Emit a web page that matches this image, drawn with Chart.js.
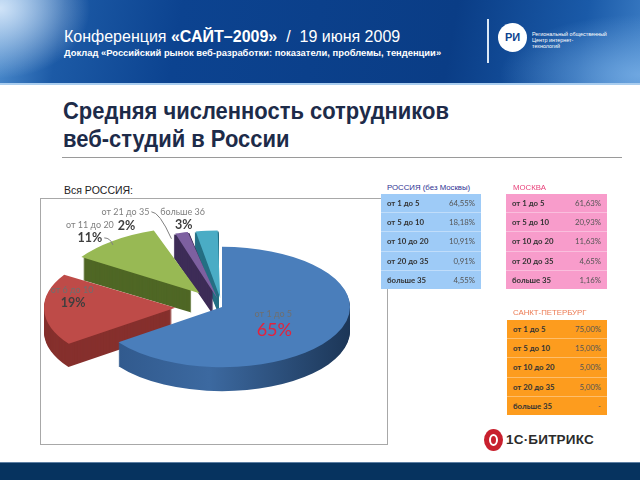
<!DOCTYPE html>
<html lang="ru">
<head>
<meta charset="utf-8">
<script src="https://cdn.jsdelivr.net/npm/chart.js@4.4.1/dist/chart.umd.min.js"></script>
<style>
html, body { margin: 0; padding: 0; }
body { width: 640px; height: 480px; position: relative; overflow: hidden; background: #fff;
       font-family: "Liberation Sans", Arial, sans-serif; }
.abs { position: absolute; }
#header { left: 0; top: 0; width: 640px; height: 83px;
  background:
    radial-gradient(ellipse 90px 70px at 0% 10%, rgba(215,232,250,0.95), rgba(120,170,225,0) 100%),
    radial-gradient(ellipse 140px 60px at 100% 90%, rgba(120,175,230,0.85), rgba(120,175,230,0) 100%),
    linear-gradient(100deg, #4f8fd0 0%, #1c5aa6 10%, #0c4390 28%, #0a3d86 70%, #1a5aa8 90%, #3b7cc4 100%);
  border-bottom: 2px solid #a9cdef; }
#conf { left: 64px; top: 28px; color: #fff; font-size: 16px; white-space: nowrap; }
#conf b { font-weight: bold; }
#report { left: 64px; top: 47px; color: #fff; font-size: 9.4px; font-weight: bold; white-space: nowrap; }
#sep { left: 487px; top: 19px; width: 2px; height: 44px; background: #dbe8f6; }
#logo { left: 498px; top: 23px; width: 29px; height: 29px; border-radius: 50%; background: #fff;
  color: #0c4390; font: bold 11px "Liberation Sans", Arial, sans-serif; text-align: center; line-height: 29px; }
#logotext { left: 532px; top: 31px; color: #fff; font-size: 5.4px; line-height: 6.2px; white-space: nowrap; }
#title { left: 63px; top: 97px; color: #1d2b49; font-family: "Liberation Sans", Arial, sans-serif; font-weight: bold;
  font-size: 24.5px; line-height: 27.5px; white-space: nowrap; transform-origin: 0 0; }
#rule { left: 62px; top: 157px; width: 560px; height: 1px; background: #9a9a9a; }
#vsya { left: 64px; top: 184px; font-size: 10.5px; color: #222; }
#box { left: 40px; top: 198px; width: 346px; height: 245px; border: 1px solid #a8a8a8; }
#pie { left: 40px; top: 198px; }
.thead { font-family: "Liberation Sans", Arial, sans-serif; font-size: 7.8px; white-space: nowrap; }
table.t { position: absolute; border-collapse: collapse; font-family: Lato, "Open Sans", sans-serif; font-size: 7.8px; }
table.t td { height: 18.2px; padding: 0; border-top: 1px solid rgba(255,255,255,0.35); }
table.t tr:first-child td { border-top: none; }
table.t td.l { padding-left: 6px; color: #333; width: 60px; font-weight: bold; }
table.t td.v { text-align: right; padding-right: 6px; color: #555; width: 28px; }
#footer { left: 0; top: 462px; width: 640px; height: 18px; background: #06335f; border-top: 1px solid #5d7fa3; }
#bx { left: 484px; top: 429px; width: 19px; height: 22px; border-radius: 50%; background: #c8202e; }
#bx2 { left: 489px; top: 434px; width: 9px; height: 12px; border-radius: 50%; border: 2px solid #fff; box-sizing: border-box; }
#bxt { left: 506px; top: 432px; font: bold 13.5px "Liberation Sans", Arial, sans-serif; color: #2b2b2b; letter-spacing: 0.2px; }
</style>
</head>
<body>
<div id="header" class="abs"></div>
<div id="conf" class="abs">Конференция <b>«САЙТ–2009»</b> &nbsp;/&nbsp; 19 июня 2009</div>
<div id="report" class="abs">Доклад «Российский рынок веб-разработки: показатели, проблемы, тенденции»</div>
<div id="sep" class="abs"></div>
<div id="logo" class="abs">РИ</div>
<div id="logotext" class="abs">Региональный общественный<br>Центр интернет-<br>технологий</div>

<div id="title" class="abs">Средняя численность сотрудников<br>веб-студий в России</div>
<div id="rule" class="abs"></div>

<div id="vsya" class="abs">Вся РОССИЯ:</div>
<div id="box" class="abs"></div>
<canvas id="pie" class="abs" width="348" height="247"></canvas>

<div class="abs thead" style="left:387px;top:183px;color:#2e3192;">РОССИЯ (без Москвы)</div>
<div class="abs thead" style="left:513px;top:183px;color:#e8417a;">МОСКВА</div>
<div class="abs thead" style="left:513px;top:308px;color:#ec7a52;">САНКТ-ПЕТЕРБУРГ</div>
<table class="t" id="tRussia" style="left:381px;top:194px;width:100px;background:#9ecbf7;"></table>
<table class="t" id="tMoscow" style="left:506px;top:194px;width:101px;background:#f89ccb;"></table>
<table class="t" id="tSpb" style="left:507px;top:320px;width:100px;background:#fd9c1e;"></table>

<div id="bx" class="abs"></div>
<div id="bx2" class="abs"></div>
<div id="bxt" class="abs">1С·БИТРИКС</div>
<div id="footer" class="abs"></div>

<script>
// pie data (Вся Россия)
const categories = ['от 1 до 5', 'от 6 до 10', 'от 11 до 20', 'от 21 до 35', 'больше 36'];
const shares = [65, 19, 11, 2, 3];

// tables
const rowLabels = ['от 1 до 5', 'от 5 до 10', 'от 10 до 20', 'от 20 до 35', 'больше 35'];
const russiaValues = ['64,55%', '18,18%', '10,91%', '0,91%', '4,55%'];
const moscowValues = ['61,63%', '20,93%', '11,63%', '4,65%', '1,16%'];
const spbValues = ['75,00%', '15,00%', '5,00%', '5,00%', '-'];

function fillTable(id, values) {
    document.getElementById(id).innerHTML = rowLabels.map((lab, i) =>
        `<tr><td class="l">${lab}</td><td class="v">${values[i]}</td></tr>`).join('');
}
fillTable('tRussia', russiaValues);
fillTable('tMoscow', moscowValues);
fillTable('tSpb', spbValues);

// no narrow font installed, so squeeze the title to the width it has on the slide
const title = document.getElementById('title');
title.style.transform = `scaleX(${386 / title.getBoundingClientRect().width})`;

// look of the fake 3d pie
const topColors = ['#4a7ebb', '#be4b48', '#98b954', '#7d60a0', '#4aacc5'];
const sideColors = ['#2c5183', '#86302d', '#4f6725', '#3d2c57', '#256f84'];
const explode = [0, 50, 50, 35, 35];   // px the slice is pulled out
const TILT = 0.47;
const DEPTH = 24;
const RADIUS = 128;
// where each label sits: f = fraction of radius from the slice tip
const labelSpots = [
    { f: 0.45, dx: 0, dy: -5, gap: 16 },
    { f: 0.75, dx: -4, dy: -19, gap: 13 },
    { f: 1.0, dx: -23, dy: -16, gap: 13, leader: true },
    { f: 1.0, dx: -56, dy: -21, gap: 14, leader: true },
    { f: 1.0, dx: -24, dy: -19, gap: 13 }
];

const total = shares.reduce((a, b) => a + b, 0);

function arcShift(arc) {
    const off = (arc.options.offset || 0) / 4;
    const fix = 1 - Math.sin(Math.min(Math.PI, arc.circumference || 0));
    return off * (1 + fix);
}

function slicePoint(arc, dist) {
    const mid = (arc.startAngle + arc.endAngle) / 2;
    return { x: arc.x + Math.cos(mid) * dist, y: arc.y + Math.sin(mid) * dist * TILT };
}

const tilt = {
    id: 'tilt',
    beforeDatasetsDraw(chart) {
        const ctx = chart.ctx;
        const arcs = chart.getDatasetMeta(0).data;
        const cx = arcs[0].x, cy = arcs[0].y;
        ctx.save();
        ctx.translate(cx, cy);
        ctx.scale(1, TILT);
        ctx.translate(-cx, -cy);
        const blueSide = ctx.createLinearGradient(cx - RADIUS, 0, cx + RADIUS, 0);
        blueSide.addColorStop(0, '#2e5689');
        blueSide.addColorStop(0.45, '#3c69a0');
        blueSide.addColorStop(1, '#1c3657');
        for (let d = DEPTH; d > 0; d--) {
            arcs.forEach((arc, i) => {
                const mid = (arc.startAngle + arc.endAngle) / 2;
                const s = arcShift(arc);
                const ox = arc.x + Math.cos(mid) * s;
                const oy = arc.y + Math.sin(mid) * s + d / TILT;
                ctx.beginPath();
                ctx.moveTo(ox, oy);
                ctx.arc(ox, oy, arc.outerRadius, arc.startAngle, arc.endAngle);
                ctx.closePath();
                ctx.fillStyle = i === 0 ? blueSide : sideColors[i];
                ctx.fill();
            });
        }
    },
    afterDatasetsDraw(chart) {
        chart.ctx.restore();
    }
};

const sliceLabels = {
    id: 'sliceLabels',
    afterDatasetsDraw(chart) {
        const ctx = chart.ctx;
        const arcs = chart.getDatasetMeta(0).data;
        ctx.save();
        ctx.textAlign = 'center';
        ctx.textBaseline = 'middle';
        arcs.forEach((arc, i) => {
            const spot = labelSpots[i];
            const s = arcShift(arc);
            const p = slicePoint(arc, s + arc.outerRadius * spot.f);
            const tx = p.x + spot.dx, ty = p.y + spot.dy;
            const pct = Math.round(shares[i] / total * 100) + '%';
            ctx.fillStyle = i === 0 || i === 1 ? '#6f6f6f' : '#7f7f7f';
            ctx.font = '9px Lato, "Open Sans", sans-serif';
            ctx.fillText(categories[i], tx, ty);
            if (i === 0) {
                ctx.fillStyle = '#e3223c';
                ctx.font = '18px Lato, "Open Sans", sans-serif';
            } else {
                ctx.fillStyle = '#3f3f3f';
                ctx.font = 'bold 12.5px Lato, "Open Sans", sans-serif';
            }
            ctx.fillText(pct, tx + (i === 2 ? 0 : 1), ty + spot.gap);
            if (spot.leader) {
                ctx.strokeStyle = '#808080';
                ctx.lineWidth = 1;
                ctx.beginPath();
                if (i === 2) {
                    const sx = tx + ctx.measureText(pct).width / 2 + 2, sy = ty + spot.gap;
                    ctx.moveTo(sx, sy);
                    ctx.quadraticCurveTo(sx + 6, sy, p.x, p.y + 4);
                } else {
                    ctx.font = '9px Lato, "Open Sans", sans-serif';
                    const sx = tx + ctx.measureText(categories[i]).width / 2 + 2;
                    ctx.moveTo(sx, ty);
                    ctx.quadraticCurveTo(sx + 8, ty, p.x - 10, p.y + 6);
                }
                ctx.stroke();
            }
        });
        ctx.restore();
    }
};

new Chart(document.getElementById('pie').getContext('2d'), {
    type: 'pie',
    data: {
        labels: categories,
        datasets: [{
            data: shares,
            backgroundColor: topColors,
            borderWidth: 0,
            radius: RADIUS,
            clip: false,
            offset: (c) => {
                const circ = 2 * Math.PI * shares[c.dataIndex] / total;
                const fix = 1 - Math.sin(Math.min(Math.PI, circ));
                return explode[c.dataIndex] * 4 / (1 + fix);
            }
        }]
    },
    options: {
        responsive: false,
        animation: false,
        layout: { padding: { left: 16, right: 0, top: 0, bottom: 29 } },
        plugins: {
            legend: { display: false },
            tooltip: { enabled: false }
        }
    },
    plugins: [tilt, sliceLabels]
});
</script>
</body>
</html>
